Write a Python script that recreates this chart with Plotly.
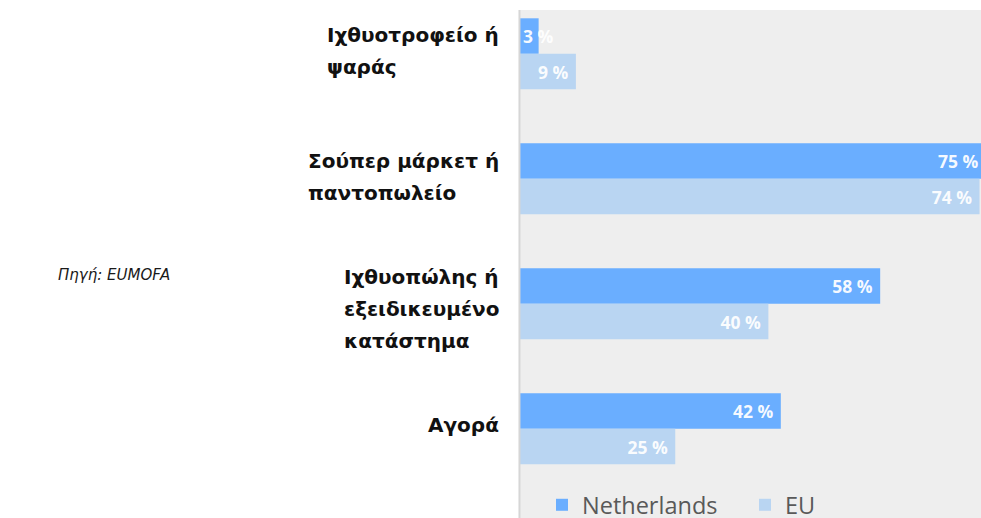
import plotly.graph_objects as go

categories = ["Ιχθυοτροφείο ή\nψαράς", "Σούπερ μάρκετ ή\nπαντοπωλείο",
              "Ιχθυοπώλης ή\nεξειδικευμένο\nκατάστημα", "Αγορά"]
netherlands = [3, 75, 58, 42]
eu = [9, 74, 40, 25]
series_names = ["Netherlands", "EU"]
source_text = "Πηγή: EUMOFA"

NL_COLOR = "#6aaeff"
EU_COLOR = "#b9d5f2"
BG = "#eeeeee"
W, H = 981, 518
ML, MT = 519, 10
LABEL_FS = 20
LINE_SP = 32
LABEL_DY = [-3, -2, 5, -4]   # per-label vertical nudge (px, downwards)
BAR_FS = 17.5
SMALL = 6
BARGAP = 0.432

pos = list(range(len(categories)))

def lbl(vals):
    return [f"{v}\u00a0%\u00a0" if v >= SMALL else "" for v in vals]

fig = go.Figure()
for name, vals, col in [(series_names[0], netherlands, NL_COLOR), (series_names[1], eu, EU_COLOR)]:
    fig.add_trace(go.Bar(
        y=pos, x=vals, name=name, orientation="h",
        marker=dict(color=col, line=dict(width=0)),
        text=lbl(vals), textposition="inside", insidetextanchor="end",
        constraintext="none",
        textfont=dict(family="Open Sans", size=BAR_FS, color="rgba(255,255,255,0.95)", weight="bold"),
        hoverinfo="skip",
    ))

annotations = []
# small-value labels straddling the bar end
for k, vals in enumerate([netherlands, eu]):
    for i, v in enumerate(vals):
        if v < SMALL:
            off = (-0.5 + k) * (1 - BARGAP) / 2
            annotations.append(dict(
                x=v, y=pos[i] + off, xref="x", yref="y", text=f"{v} %",
                showarrow=False, xanchor="center", yanchor="middle",
                font=dict(family="Open Sans", size=BAR_FS, color="rgba(255,255,255,0.95)", weight="bold"),
            ))

# category labels: block right-aligned, lines left-aligned, wider line spacing
for i, cat in enumerate(categories):
    lines = cat.split("\n")
    txt = "<br>".join(f"<span style='font-size:{LABEL_FS}px'>{ln}</span>" for ln in lines)
    annotations.append(dict(
        x=0, y=pos[i], xref="paper", yref="y", text=txt, showarrow=False,
        xanchor="right", yanchor="middle", align="left", xshift=-18, yshift=-LABEL_DY[i],
        font=dict(family="DejaVu Sans", size=LINE_SP / 1.3, color="#111111", weight="bold"),
    ))

pw = W - ML
ph = H - MT
annotations.append(dict(
    x=(56 - ML) / pw, y=(H - 275) / ph, xref="paper", yref="paper",
    text=f"<i>{source_text}</i>", showarrow=False, xanchor="left", yanchor="middle",
    font=dict(family="DejaVu Sans", size=15, color="#1a1a1a"),
))

scale = 6.21
fig.update_layout(
    width=W, height=H,
    margin=dict(l=ML, r=0, t=MT, b=0, pad=0, autoexpand=False),
    paper_bgcolor="white", plot_bgcolor=BG,
    barmode="group", bargap=BARGAP, bargroupgap=0,
    xaxis=dict(range=[-1 / scale, (W - ML - 1) / scale], showgrid=False, zeroline=False,
               showticklabels=False, fixedrange=True),
    yaxis=dict(range=[3.7136, -0.3504], showgrid=False, zeroline=False,
               showticklabels=False, fixedrange=True),
    showlegend=True,
    legend=dict(orientation="h", x=(542 - ML) / pw, y=(H - 505) / ph, xanchor="left", yanchor="middle",
                bgcolor="rgba(0,0,0,0)", font=dict(family="Open Sans", size=23.5, color="#595959"),
                entrywidth=158, entrywidthmode="pixels", traceorder="normal"),
    annotations=annotations,
    shapes=[dict(type="line", xref="paper", yref="paper", x0=0.001, x1=0.001, y0=0, y1=1,
                 line=dict(color="#d6d6d6", width=2))],
)

fig.write_html("out.html", config={"displayModeBar": False},
               post_script="document.body.style.margin='0';document.body.style.overflow='hidden';")
